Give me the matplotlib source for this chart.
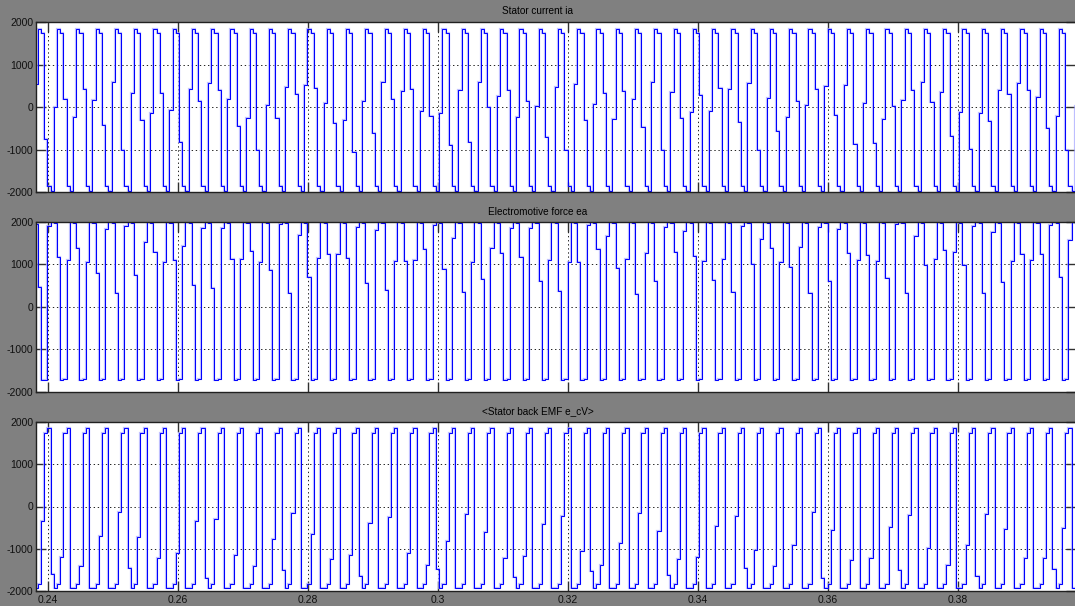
import numpy as np
import matplotlib
matplotlib.use("Agg")
import matplotlib.pyplot as plt
from matplotlib import font_manager

# ---------------- data ----------------
titles = ["Stator current ia", "Electromotive force ea", "<Stator back EMF e_cV>"]
x_ticks = [0.24, 0.26, 0.28, 0.30, 0.32, 0.34, 0.36, 0.38]
x_tick_labels = ["0.24", "0.26", "0.28", "0.3", "0.32", "0.34", "0.36", "0.38"]
y_ticks = [-2000, -1000, 0, 1000, 2000]
y_tick_labels = ["-2000", "-1000", "0", "1000", "2000"]
x_range = (0.23815, 0.39815)
y_range = (-2000, 2000)

t_first = 0.237922      # time of first held sample (s)
t_step = 0.000494       # scope sample step (s)

# Stator current ia : per period [top1, top2, fall_mid, bottom1, bottom2, rise_mid]
ia_start = [533]
ia_top = [1840, 1735]
ia_bottom = [-1870, -1985]
ia_fall_mid = [-760, 200, 415, -425, -1010, -305, 335, -825, 150, 400,
               -450, -1000, -250, 300, 450, -380, -1050, -600, 180, 420,
               -200, -900, -820, 0, 400, 150, -700, -1000, -300, 330,
               380, -480, -1000, -250, 280, 440, -350, -1020, -560, 150,
               430, -180, -880, -850, 20, 410, 120, -680, -990, -320,
               300, 390, -500, -1000, -230]
ia_rise_mid = [0, -245, 165, 600, 335, -135, -70, 415, 560, 200,
               -250, 50, 480, 520, 100, -300, 150, 590, 380, -100,
               -150, 400, 580, 250, -230, 20, 470, 540, 60, -280,
               180, 600, 350, -120, -90, 420, 570, 220, -240, 40,
               490, 510, 90, -290, 160, 600, 360, -110, -130, 410,
               560, 240, -220, 30, 460]

# EMF ea : per period [rise_mid, top1, top2, fall_mid, bottom1, bottom2]
ea_start = [1950, 480, -1720, -1720]
ea_top = [1990, 1965]
ea_bottom = [-1720, -1705]
ea_rise_mid = [1900, 1110, 1070, 1840, 1900, 1540, 1060, 1440, 1860, 1860,
               1120, 1060, 1960, 1700, 1150, 1250, 1880, 1800, 1080, 1100,
               1920, 1620, 1050, 1380, 1870, 1850, 1100, 1070, 1940, 1680,
               1140, 1280, 1890, 1780, 1090, 1120, 1910, 1600, 1060, 1400,
               1880, 1840, 1110, 1080, 1950, 1660, 1130, 1300, 1900, 1760,
               1090, 1110, 1920, 1580, 1060]
ea_fall_mid = [1180, 1380, 810, 330, 760, 1300, 1100, 520, 450, 1130,
               1320, 865, 330, 700, 1250, 1150, 560, 400, 1080, 1360,
               900, 350, 650, 1280, 1180, 600, 380, 1050, 1370, 920,
               310, 620, 1300, 1200, 640, 360, 1000, 1380, 950, 330,
               600, 1260, 1220, 680, 340, 980, 1350, 980, 320, 580,
               1240, 1240, 700, 330, 950]

# back EMF e_c : per period [rise_mid, top1, top2, fall, bottom2, bottom3]
ec_start = [-1930, -1830]
ec_top = [1740, 1860]
ec_bottom = [-1940, -1830]
ec_rise_mid = [-350, -1200, -1400, -700, -125, -730, -1230, -1090, -350, -300,
               -1140, -1400, -780, -150, -650, -1250, -1150, -400, -250, -1100,
               -1380, -820, -180, -600, -1220, -1180, -420, -230, -1060, -1390,
               -860, -160, -580, -1240, -1200, -450, -220, -1020, -1400, -900,
               -140, -560, -1260, -1210, -480, -200, -980, -1380, -920, -170,
               -540, -1230, -1230, -500, -210]
ec_fall = [-1600, -1940, -1940, -1940, -1450, -1940, -1940, -1940, -1700, -1940,
           -1940, -1940, -1500, -1940, -1940, -1940, -1650, -1940, -1940, -1940,
           -1480, -1940, -1940, -1940, -1680, -1940, -1940, -1940, -1520, -1940,
           -1940, -1940, -1620, -1940, -1940, -1940, -1460, -1940, -1940, -1940,
           -1700, -1940, -1940, -1940, -1500, -1940, -1940, -1940, -1640, -1940,
           -1940, -1940, -1480, -1940, -1940]

# ---------------- assemble held-sample sequences ----------------
ia = list(ia_start)
for fm, rm in zip(ia_fall_mid, ia_rise_mid):
    ia += [ia_top[0], ia_top[1], fm, ia_bottom[0], ia_bottom[1], rm]
ea = list(ea_start)
for rm, fm in zip(ea_rise_mid, ea_fall_mid):
    ea += [rm, ea_top[0], ea_top[1], fm, ea_bottom[0], ea_bottom[1]]
ec = list(ec_start)
for rm, f in zip(ec_rise_mid, ec_fall):
    ec += [rm, ec_top[0], ec_top[1], f, ec_bottom[0], ec_bottom[1]]
series = [ia, ea, ec]

# ---------------- style ----------------
avail = {f.name for f in font_manager.fontManager.ttflist}
fam = "Liberation Sans Narrow" if "Liberation Sans Narrow" in avail else "Liberation Sans"
plt.rcParams["font.family"] = [fam, "DejaVu Sans"]

W, H = 1075, 606
fig = plt.figure(figsize=(W / 100, H / 100), dpi=100, facecolor="#808080")

boxes = [(22, 192), (222, 392), (422, 591)]   # top/bottom pixel rows of each axes
title_rows = [11, 212, 411]
left_px, right_px = 36, 1076

for i, (vals, (top, bot)) in enumerate(zip(series, boxes)):
    ax = fig.add_axes([left_px / W, 1 - bot / H, (right_px - left_px) / W, (bot - top) / H])
    ax.set_facecolor("white")
    t = t_first + t_step * np.arange(len(vals))
    ax.plot(t, vals, drawstyle="steps-post", color="#a8a8ff", lw=1.6, alpha=0.7,
            solid_joinstyle="miter")
    ax.plot(t, vals, drawstyle="steps-post", color="#0000ff", lw=0.75,
            solid_joinstyle="miter")
    ax.set_xlim(*x_range)
    ax.set_ylim(*y_range)
    ax.set_xticks(x_ticks)
    ax.set_yticks(y_ticks)
    ax.set_yticklabels(y_tick_labels)
    if i == 2:
        ax.set_xticklabels(x_tick_labels)
    else:
        ax.set_xticklabels([])
    ax.tick_params(direction="in", length=7, width=1.0, color="#303030",
                   top=True, right=True, labelsize=7.5, labelcolor="#101010")
    ax.tick_params(axis="y", pad=2)
    ax.tick_params(axis="x", pad=3)
    ax.grid(True, color="#202020", lw=0.7, linestyle=(0, (1.4, 2.8)))
    for s in ax.spines.values():
        s.set_color("#202020")
        s.set_linewidth(1.0)
    fig.text(0.5, 1 - title_rows[i] / H, titles[i], ha="center", va="center",
             fontsize=7.2, color="#000000")

fig.savefig("out.png", dpi=100, facecolor=fig.get_facecolor())
